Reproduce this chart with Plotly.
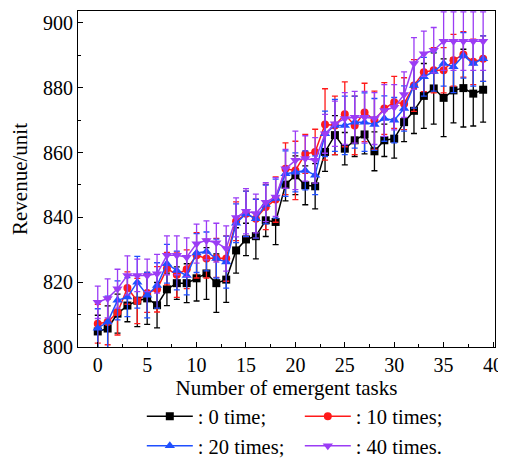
import plotly.graph_objects as go

tasks = list(range(40))

rev_0 = [804.8, 805.7, 810.3, 812.8, 814.3, 815.0, 812.9, 817.8, 819.7, 819.7,
         821.2, 822.7, 819.7, 820.8, 829.8, 833.2, 834.2, 839.1, 838.6, 850.1,
         853.0, 849.9, 849.6, 860.2, 865.4, 861.2, 863.8, 865.6, 860.4, 863.8,
         864.3, 869.4, 872.9, 877.5, 879.8, 876.9, 879.2, 879.9, 878.2, 879.4]
err_0 = [5, 7, 6, 5, 8, 8, 7, 5, 5, 6, 7, 8, 9, 7, 7, 5, 7, 5, 7, 5,
         6, 6, 7, 6, 6, 5, 5, 6, 6, 5, 6, 6, 7, 10, 11, 12, 10, 12, 10, 10]

rev_10 = [807.2, 807.7, 810.7, 818.2, 814.2, 816.7, 817.8, 824.2, 822.3, 824.0,
          828.3, 827.3, 827.5, 827.3, 838.8, 841.1, 839.6, 843.2, 845.5, 855.0,
          854.5, 859.6, 860.2, 868.7, 868.4, 871.8, 868.4, 872.4, 870.0, 873.6,
          875.5, 875.1, 880.7, 884.8, 885.4, 885.4, 888.5, 890.3, 888.0, 889.0]
err_10 = [6, 7, 7, 5, 7, 6, 7, 5, 7, 6, 7, 6, 6, 7, 6, 7, 6, 7, 7, 8,
          9, 6, 7, 11, 9, 10, 9, 9, 9, 8, 8, 8, 8, 6, 7, 7, 8, 7, 7, 7]

rev_20 = [805.8, 807.7, 814.4, 815.4, 820.0, 816.0, 819.0, 825.7, 823.6, 822.1,
          829.0, 829.5, 827.3, 826.2, 838.2, 841.1, 839.6, 844.0, 845.8, 853.5,
          853.9, 854.5, 853.0, 865.8, 868.4, 868.4, 869.4, 869.4, 868.7, 870.5,
          870.0, 873.6, 880.7, 883.4, 885.0, 887.5, 886.5, 890.0, 887.5, 889.0]
err_20 = [6, 8, 6, 6, 8, 7, 7, 6, 6, 6, 6, 6, 6, 8, 6, 7, 6, 6, 6, 7,
          6, 6, 6, 7, 8, 9, 8, 9, 8, 7, 7, 7, 7, 6, 6, 7, 8, 7, 7, 7]

rev_40 = [813.8, 815.0, 818.0, 822.1, 822.1, 822.1, 822.6, 828.3, 828.3, 827.7,
          831.9, 832.9, 832.2, 830.4, 840.0, 841.9, 841.2, 844.7, 846.3, 855.0,
          857.6, 858.2, 857.6, 865.8, 868.9, 870.5, 870.9, 870.9, 870.5, 873.0,
          874.0, 877.9, 887.5, 890.5, 891.6, 894.4, 894.4, 894.4, 894.4, 894.4]
err_40 = [5, 6, 6, 6, 5, 5, 6, 6, 6, 6, 6, 6, 6, 7, 6, 7, 6, 6, 6, 6,
          9, 7, 7, 6, 7, 8, 8, 8, 8, 8, 7, 7, 8, 7, 7, 9, 9, 9, 9, 9]

series = [
    (": 0 time;", rev_0, err_0, "#000000", "square", 8),
    (": 10 times;", rev_10, err_10, "#FF1A1A", "circle", 8),
    (": 20 times;", rev_20, err_20, "#1F4FFF", "triangle-up", 9),
    (": 40 times.", rev_40, err_40, "#9B3CF5", "triangle-down", 9),
]

FONT = "Liberation Serif"

fig = go.Figure()
for name, vals, errs, color, symbol, size in series:
    fig.add_trace(
        go.Scatter(
            x=tasks,
            y=vals,
            mode="lines+markers",
            name=name,
            line=dict(color=color, width=1.5),
            marker=dict(color=color, symbol=symbol, size=size),
            error_y=dict(type="data", array=errs, visible=True, color=color, thickness=1.3, width=3),
        )
    )

axis_common = dict(
    showline=True,
    linecolor="black",
    linewidth=1.2,
    mirror=True,
    ticks="inside",
    ticklen=5,
    tickcolor="black",
    showgrid=False,
    zeroline=False,
    tickfont=dict(family=FONT, size=20, color="black"),
)

# the page body has an 8px margin, so the figure is 8px smaller than the window
fig.update_layout(
    width=498,
    height=450,
    plot_bgcolor="white",
    paper_bgcolor="white",
    margin=dict(l=70, r=11, t=3, b=111, autoexpand=False),
    font=dict(family=FONT, color="black", size=21),
    xaxis=dict(
        **axis_common,
        range=[-2.0, 40.2],
        tickvals=[0, 5, 10, 15, 20, 25, 30, 35, 40],
        minor=dict(ticks="inside", ticklen=3, dtick=2.5, tick0=0, tickcolor="black"),
        title=dict(text="Number of emergent tasks", font=dict(family=FONT, size=21), standoff=5),
    ),
    yaxis=dict(
        **axis_common,
        range=[800, 903.7],
        tickvals=[800, 820, 840, 860, 880, 900],
        minor=dict(ticks="inside", ticklen=3, dtick=10, tick0=800, tickcolor="black"),
        title=dict(text="Revenue/unit", font=dict(family=FONT, size=21), standoff=11),
    ),
    legend=dict(
        orientation="h",
        x=0.153,
        xanchor="left",
        y=-0.147,
        yanchor="top",
        entrywidth=97,
        font=dict(family=FONT, size=20.5),
        itemwidth=46,
        bgcolor="rgba(0,0,0,0)",
        tracegroupgap=0,
    ),
    showlegend=True,
)

fig.write_html("out.html")
